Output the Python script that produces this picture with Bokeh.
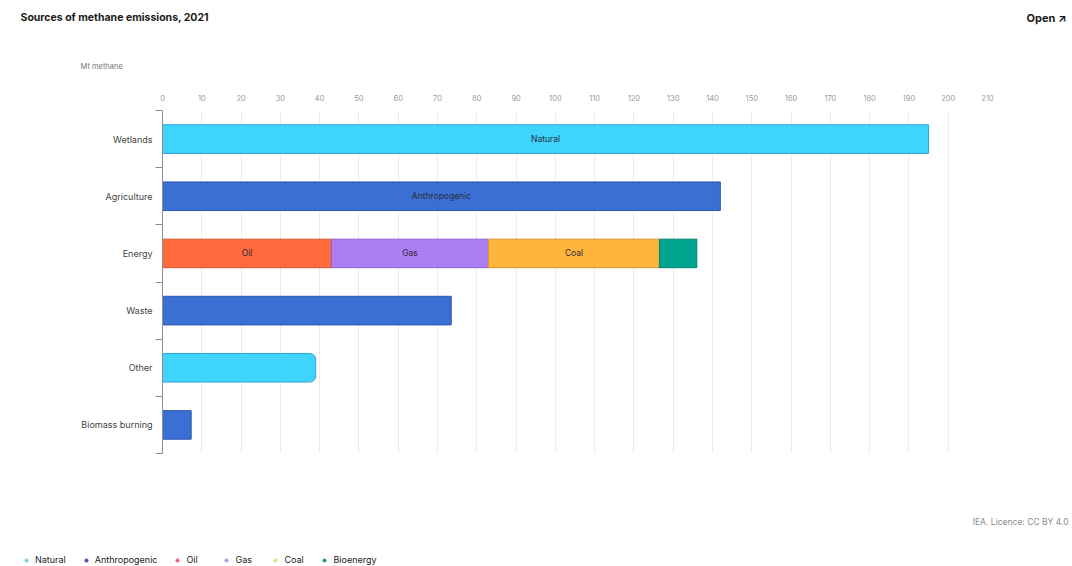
from bokeh.plotting import figure
from bokeh.models import Range1d, FixedTicker, ColumnDataSource, Label, Legend, LegendItem
from bokeh.embed import file_html
from bokeh.resources import INLINE
from bokeh.core.properties import value

# ---- data ----
categories = ["Wetlands", "Agriculture", "Energy", "Waste", "Other", "Biomass burning"]
series_names = ["Natural", "Anthropogenic", "Oil", "Gas", "Coal", "Bioenergy"]
natural = [195, 0, 0, 0, 39, 0]
anthropogenic = [0, 142, 0, 73.5, 0, 7.3]
oil = [0, 0, 43, 0, 0, 0]
gas = [0, 0, 40, 0, 0, 0]
coal = [0, 0, 43.5, 0, 0, 0]
bioenergy = [0, 0, 9.5, 0, 0, 0]
x_ticks = list(range(0, 211, 10))
labelled = [("Wetlands", "Natural"), ("Agriculture", "Anthropogenic"),
            ("Energy", "Oil"), ("Energy", "Gas"), ("Energy", "Coal")]
rounded = [("Other", "Natural")]

fills = ["#3fd4fc", "#3c6fd3", "#ff6b3d", "#ab7ef2", "#ffb53c", "#00a68f"]
lines = ["#2ea3d8", "#2b57b0", "#d9552d", "#8c62d2", "#dc952b", "#00806e"]
legend_colors = ["#7fd0f0", "#4b4fc4", "#f0607a", "#a99ee8", "#e8dc8a", "#1f9e6a"]

FONT = "Inter"
W = 1072
all_series = [natural, anthropogenic, oil, gas, coal, bioenergy]
n = len(categories)

seg = dict(left=[], right=[], y=[], fill=[], line=[])
rnd = dict(left=[], right=[], y=[], fill=[], line=[])
lab = dict(x=[], y=[], text=[])
for i, cat in enumerate(categories):
    yc = n - i - 0.5
    start = 0.0
    for k, (s, vals) in enumerate(zip(series_names, all_series)):
        v = vals[i]
        if v > 0:
            target = rnd if (cat, s) in rounded else seg
            target["left"].append(start)
            target["right"].append(start + v)
            target["y"].append(yc)
            target["fill"].append(fills[k])
            target["line"].append(lines[k])
            if (cat, s) in labelled:
                lab["x"].append(start + v / 2)
                lab["y"].append(yc)
                lab["text"].append(s)
        start += v


def blank(h):
    f = figure(width=W, height=h, output_backend="svg", toolbar_location=None,
               x_axis_type=None, y_axis_type=None, min_border=0,
               x_range=Range1d(0, W), y_range=Range1d(0, h))
    f.outline_line_color = None
    f.grid.grid_line_color = None
    return f


def add_label(f, h, x, y, text, **kw):
    f.add_layout(Label(x=x, y=h - y, x_units="screen", y_units="screen",
                       text=text, text_font=FONT, text_baseline="middle", **kw))


# ---- header ----
TOP_H = 75
top = blank(TOP_H)
add_label(top, TOP_H, 20, 17, "Sources of methane emissions, 2021", text_font_size="10.5px",
          text_font_style="bold", text_color="#1a1a1a")
add_label(top, TOP_H, 1066, 17, "Open \u2197", text_font_size="11px", text_font_style="bold",
          text_color="#1a1a1a", text_align="right")
add_label(top, TOP_H, 80, 66, "Mt methane", text_font_size="7.5px", text_color="#777777")

# ---- main chart ----
MAIN_H = 435
p = figure(width=W, height=MAIN_H, output_backend="svg", toolbar_location=None,
           x_range=Range1d(0, 210), y_range=Range1d(0, n),
           x_axis_location="above",
           min_border_left=162, min_border_right=W - 987,
           min_border_top=110 - TOP_H, min_border_bottom=TOP_H + MAIN_H - 453)
p.outline_line_color = None

p.xaxis.ticker = FixedTicker(ticks=x_ticks)
p.xaxis.axis_line_color = None
p.xaxis.major_tick_line_color = None
p.xaxis.major_tick_out = 0
p.xaxis.minor_tick_line_color = None
p.xaxis.major_label_text_font = FONT
p.xaxis.major_label_text_font_size = "7.5px"
p.xaxis.major_label_text_color = "#9a9a9a"
p.xaxis.major_label_standoff = 10
p.xgrid.grid_line_color = "#ececec"
p.xgrid.ticker = FixedTicker(ticks=x_ticks)
p.ygrid.grid_line_color = None

centers = [n - i - 0.5 for i in range(n)]
p.yaxis.ticker = FixedTicker(ticks=centers, minor_ticks=list(range(0, n + 1)))
p.yaxis.major_label_overrides = {c: cat for c, cat in zip(centers, categories)}
p.yaxis.major_tick_line_color = None
p.yaxis.major_tick_out = 0
p.yaxis.major_tick_in = 0
p.yaxis.minor_tick_line_color = "#8a8f99"
p.yaxis.minor_tick_out = 7
p.yaxis.minor_tick_in = 0
p.yaxis.axis_line_color = "#8a8f99"
p.yaxis.major_label_standoff = 3
p.yaxis.major_label_text_font = FONT
p.yaxis.major_label_text_font_size = "9px"
p.yaxis.major_label_text_color = "#444444"

p.hbar(y="y", left="left", right="right", height=0.5, source=ColumnDataSource(seg),
       fill_color="fill", line_color="line", line_width=1)
p.hbar(y="y", left="left", right="right", height=0.5, source=ColumnDataSource(rnd),
       fill_color="fill", line_color="line", line_width=1, border_radius=(0, 6, 6, 0))
p.text(x="x", y="y", text="text", source=ColumnDataSource(lab),
       text_font=value(FONT), text_font_size="8.5px", text_align="center",
       text_baseline="middle", text_color="#2a2a3a")

# ---- footer ----
BOT_H = 566 - TOP_H - MAIN_H
bot = blank(BOT_H)
add_label(bot, BOT_H, 1068, 521 - TOP_H - MAIN_H, "IEA. Licence: CC BY 4.0",
          text_font_size="8.5px", text_color="#8a8a8a", text_align="right")
items = []
for s, c in zip(series_names, legend_colors):
    r = bot.scatter(x=[-500], y=[-500], marker="circle", size=5, fill_color=c, line_color=c)
    items.append(LegendItem(label=s, renderers=[r]))
legend = Legend(items=items, orientation="horizontal", location=(22, 1),
                label_text_font=FONT, label_text_font_size="9px",
                label_text_color="#222222", glyph_width=8, glyph_height=8,
                spacing=16, padding=2, margin=0, label_standoff=5,
                border_line_color=None, background_fill_alpha=0)
bot.add_layout(legend, "center")

open("out.html", "w").write(file_html([top, p, bot], INLINE))
